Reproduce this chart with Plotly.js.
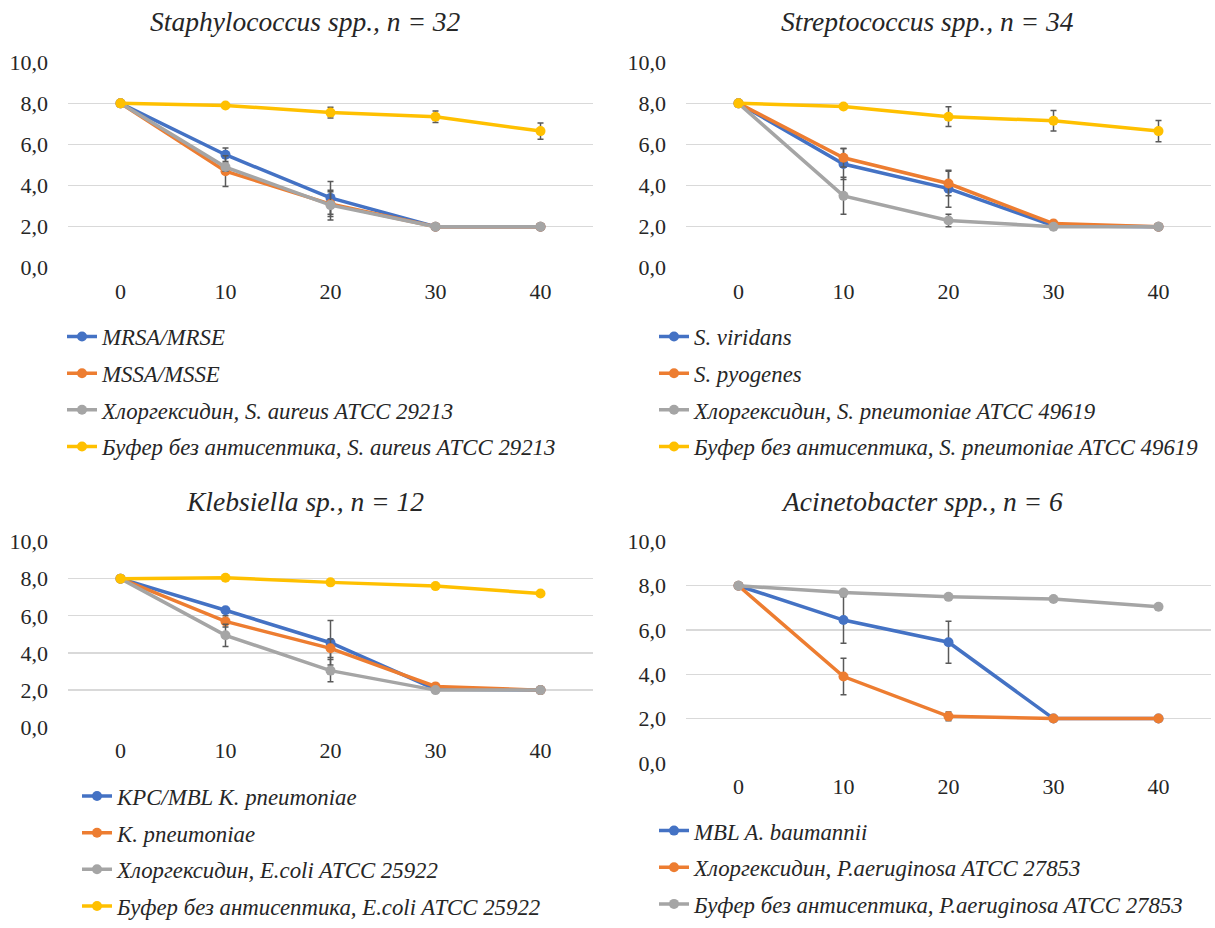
<!DOCTYPE html>
<html>
<head>
<meta charset="utf-8">
<script src="https://cdn.plot.ly/plotly-3.0.1.min.js"></script>
<style>html,body{margin:0;padding:0;background:#fff}#chart{width:1215px;height:928px}</style>
</head>
<body>
<div id="chart"></div>
<script>
// Time points (x axis)
const times = [0, 10, 20, 30, 40];

// Panel titles
const titles = [
  "Staphylococcus spp., n = 32",
  "Streptococcus spp., n = 34",
  "Klebsiella sp., n = 12",
  "Acinetobacter spp., n = 6"
];

// Panel 1: Staphylococcus
const staphNames = ["MRSA/MRSE", "MSSA/MSSE", "Хлоргексидин, S. aureus ATCC 29213", "Буфер без антисептика, S. aureus ATCC 29213"];
const staphMRSA = [8.0, 5.5, 3.4, 2.0, 2.0];
const staphMRSAErr = [0, 0.33, 0.8, 0, 0];
const staphMSSA = [8.0, 4.7, 3.1, 2.0, 2.0];
const staphMSSAErr = [0, 0.75, 0.6, 0, 0];
const staphChlor = [8.0, 4.9, 3.05, 2.0, 2.0];
const staphChlorErr = [0, 0.2, 0.72, 0, 0];
const staphBuffer = [8.0, 7.9, 7.55, 7.35, 6.65];
const staphBufferErr = [0, 0.05, 0.26, 0.28, 0.4];

// Panel 2: Streptococcus
const strepNames = ["S. viridans", "S. pyogenes", "Хлоргексидин, S. pneumoniae ATCC 49619", "Буфер без антисептика, S. pneumoniae ATCC 49619"];
const strepVir = [8.0, 5.05, 3.85, 2.05, 2.0];
const strepVirErr = [0, 0.75, 0.9, 0.15, 0];
const strepPyo = [8.0, 5.35, 4.1, 2.15, 2.0];
const strepPyoErr = [0, 0.45, 0.6, 0.15, 0];
const strepChlor = [8.0, 3.5, 2.3, 2.0, 2.0];
const strepChlorErr = [0, 0.9, 0.3, 0, 0];
const strepBuffer = [8.0, 7.85, 7.35, 7.15, 6.65];
const strepBufferErr = [0, 0.05, 0.48, 0.5, 0.52];

// Panel 3: Klebsiella
const klebNames = ["KPC/MBL K. pneumoniae", "K. pneumoniae", "Хлоргексидин, E.coli ATCC 25922", "Буфер без антисептика, E.coli ATCC 25922"];
const klebKPC = [8.0, 6.3, 4.55, 2.05, 2.0];
const klebKPCErr = [0, 0.1, 1.2, 0, 0];
const klebKpn = [8.0, 5.7, 4.25, 2.2, 2.0];
const klebKpnErr = [0, 0.3, 0.5, 0.1, 0];
const klebChlor = [8.0, 4.95, 3.05, 2.0, 2.0];
const klebChlorErr = [0, 0.6, 0.6, 0, 0];
const klebBuffer = [8.0, 8.05, 7.8, 7.6, 7.2];
const klebBufferErr = [0, 0.05, 0.07, 0.07, 0.1];

// Panel 4: Acinetobacter
const acinNames = ["MBL A. baumannii", "Хлоргексидин, P.aeruginosa ATCC 27853", "Буфер без антисептика, P.aeruginosa ATCC 27853"];
const acinMBL = [8.0, 6.45, 5.45, 2.0, 2.0];
const acinMBLErr = [0, 1.05, 0.95, 0, 0];
const acinChlor = [8.0, 3.9, 2.1, 2.0, 2.0];
const acinChlorErr = [0, 0.82, 0.2, 0, 0];
const acinBuffer = [8.0, 7.7, 7.5, 7.4, 7.05];
const acinBufferErr = [0, 0.1, 0.05, 0.05, 0.12];

// y-axis tick values
const yTicks = [0, 2, 4, 6, 8, 10];

const BLUE = "#4472C4", ORANGE = "#ED7D31", GRAY = "#A5A5A5", YELLOW = "#FFC000";
const FONT = "Liberation Serif, serif";
const W = 1215, H = 928;

function tr(name, y, err, color, axIdx, legendId) {
  const s = axIdx === 1 ? "" : String(axIdx);
  return {
    type: "scatter", mode: "lines+markers",
    x: times, y: y, name: name,
    xaxis: "x" + s, yaxis: "y" + s,
    legend: legendId, legendgroup: legendId + name,
    line: {color: color, width: 3.5},
    marker: {color: color, size: 10},
    error_y: {type: "data", array: err, visible: true, color: "#595959", thickness: 1.5, width: 3},
    hoverinfo: "skip"
  };
}

const data = [
  tr(staphNames[0], staphMRSA, staphMRSAErr, BLUE, 1, "legend"),
  tr(staphNames[1], staphMSSA, staphMSSAErr, ORANGE, 1, "legend"),
  tr(staphNames[2], staphChlor, staphChlorErr, GRAY, 1, "legend"),
  tr(staphNames[3], staphBuffer, staphBufferErr, YELLOW, 1, "legend"),
  tr(strepNames[0], strepVir, strepVirErr, BLUE, 2, "legend2"),
  tr(strepNames[1], strepPyo, strepPyoErr, ORANGE, 2, "legend2"),
  tr(strepNames[2], strepChlor, strepChlorErr, GRAY, 2, "legend2"),
  tr(strepNames[3], strepBuffer, strepBufferErr, YELLOW, 2, "legend2"),
  tr(klebNames[0], klebKPC, klebKPCErr, BLUE, 3, "legend3"),
  tr(klebNames[1], klebKpn, klebKpnErr, ORANGE, 3, "legend3"),
  tr(klebNames[2], klebChlor, klebChlorErr, GRAY, 3, "legend3"),
  tr(klebNames[3], klebBuffer, klebBufferErr, YELLOW, 3, "legend3"),
  tr(acinNames[0], acinMBL, acinMBLErr, BLUE, 4, "legend4"),
  tr(acinNames[1], acinChlor, acinChlorErr, ORANGE, 4, "legend4"),
  tr(acinNames[2], acinBuffer, acinBufferErr, GRAY, 4, "legend4")
];

// pixel geometry of each plot area: [left, right, yZeroPx, yTenPx]
const areas = [
  [68, 593, 271, 63],
  [686, 1211, 271, 63],
  [68, 593, 736, 548],
  [686, 1211, 772, 548]
];

function xa(a, anchor) {
  return {
    domain: [a[0] / W, a[1] / W], anchor: anchor,
    range: [-5, 45], tickvals: times, ticktext: times.map(String),
    showgrid: false, zeroline: false, showline: false, ticks: "",
    ticklabelstandoff: 8,
    tickfont: {family: FONT, size: 22, color: "#262626"}, fixedrange: true
  };
}
function ya(a, anchor) {
  return {
    domain: [1 - a[2] / H, 1 - a[3] / H], anchor: anchor,
    range: [0, 10], tickvals: yTicks, tickformat: ".1f",
    showgrid: true, gridcolor: "#D9D9D9", gridwidth: 1.3,
    zeroline: false, showline: false, ticks: "", ticklen: 0,
    ticklabelstandoff: 19,
    tickfont: {family: FONT, size: 22, color: "#262626"}, fixedrange: true
  };
}

function leg(xPx, yPx) {
  return {
    x: xPx / W, y: 1 - yPx / H, xanchor: "left", yanchor: "top",
    font: {family: FONT, size: 22.8, color: "#262626", style: "italic"},
    bgcolor: "rgba(0,0,0,0)", tracegroupgap: 4, itemwidth: 30
  };
}

const titleX = [305, 927, 305, 922];
const titleY = [22, 22, 508, 508];

const layout = {
  width: W, height: H,
  margin: {l: 0, r: 0, t: 0, b: 0},
  paper_bgcolor: "#fff", plot_bgcolor: "#fff",
  separators: ", ",
  font: {family: FONT, color: "#262626"},
  showlegend: true,
  xaxis: xa(areas[0], "y"), yaxis: ya(areas[0], "x"),
  xaxis2: xa(areas[1], "y2"), yaxis2: ya(areas[1], "x2"),
  xaxis3: xa(areas[2], "y3"), yaxis3: ya(areas[2], "x3"),
  xaxis4: xa(areas[3], "y4"), yaxis4: ya(areas[3], "x4"),
  legend: leg(62, 319),
  legend2: leg(654, 319),
  legend3: leg(77, 784),
  legend4: leg(654, 819),
  annotations: titles.map((t, i) => ({
    text: t, xref: "paper", yref: "paper",
    x: titleX[i] / W, y: 1 - titleY[i] / H, xanchor: "center", yanchor: "middle",
    showarrow: false, font: {family: FONT, size: 27.5, color: "#262626", style: "italic"}
  }))
};

Plotly.newPlot("chart", data, layout, {displayModeBar: false, staticPlot: true});
</script>
</body>
</html>
